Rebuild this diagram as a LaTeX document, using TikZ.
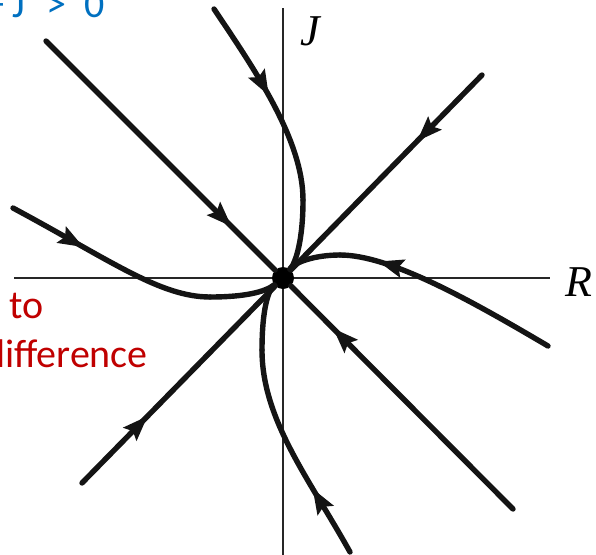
\documentclass[tikz,border=0pt]{standalone}
\usepackage{fontspec}
\setmainfont{Liberation Serif}
\newfontfamily\labfont{Carlito}
\usetikzlibrary{arrows.meta,decorations.markings}
\definecolor{condblue}{RGB}{0,112,192}
\definecolor{noteRed}{RGB}{192,0,0}
\begin{document}
\begin{tikzpicture}[x=1pt,y=-1pt,
  axis/.style={line width=2.6pt, black!85},
  traj/.style={line width=5.4pt, black!92, line cap=round},
  arrat/.style={postaction={decorate}, decoration={markings,
     mark=at position #1 with {\arrow{Stealth[length=25pt,width=18pt,inset=4pt]}}}},
  axlabel/.style={font=\itshape\fontsize{44}{44}\selectfont, anchor=base west, inner sep=0},
  note/.style={font=\labfont\fontsize{40}{40}\selectfont, anchor=base west, inner sep=0},
]
\useasboundingbox (0,0) rectangle (596,554);
% axes
\coordinate (xl) at (14,278);
\coordinate (xr) at (550,278);
\coordinate (yt) at (283,8);
\coordinate (yb) at (283,556);
\draw[axis] (xl) -- (xr);
\draw[axis] (yt) -- (yb);
\node[axlabel] (R) at (565,296) {R};
\node[axlabel] (J) at (300,45) {J};
% fixed point
\node[circle, fill=black, inner sep=0, minimum size=22pt] (O) at (283,278) {};
% straight trajectories
\coordinate (ul) at (46,41);
\coordinate (ur) at (482,75);
\coordinate (lr) at (513,509);
\coordinate (ll) at (82,483);
\draw[traj, arrat=0.81] (ul) -- (O);
\draw[traj, arrat=0.34] (ur) -- (O);
\draw[traj, arrat=0.81] (lr) -- (O);
\draw[traj, arrat=0.34] (ll) -- (O);
% curved trajectories
\coordinate (ta) at (214,9);   \coordinate (tm) at (303,200);
\coordinate (ba) at (350,552); \coordinate (bm) at (262,350);
\coordinate (la) at (13,208);  \coordinate (lm) at (210,297);
\coordinate (ra) at (548,346); \coordinate (rm) at (340,255);
\draw[traj, arrat=0.48] (ta) .. controls (255,70) and (303,140) .. (tm);
\draw[traj] (tm) .. controls (303,240) and (296,262) .. (O);
\draw[traj, arrat=0.33] (ba) .. controls (310,480) and (262,420) .. (bm);
\draw[traj] (bm) .. controls (262,310) and (268,290) .. (O);
\draw[traj, arrat=0.37] (la) .. controls (110,260) and (160,297) .. (lm);
\draw[traj] (lm) .. controls (245,297) and (265,292) .. (O);
\draw[traj, arrat=0.83] (ra) .. controls (470,300) and (390,255) .. (rm);
\draw[traj] (rm) .. controls (315,255) and (295,262) .. (O);
% texts
\node[note, text=condblue] (cond) at (-16,17) {+\hspace{8pt}J\hspace{22pt}>\hspace{18pt}0};
\node[note, text=noteRed] (to) at (9,318) {to};
\node[note, text=noteRed] (diff) at (-16,367) {difference};
\end{tikzpicture}
\end{document}
